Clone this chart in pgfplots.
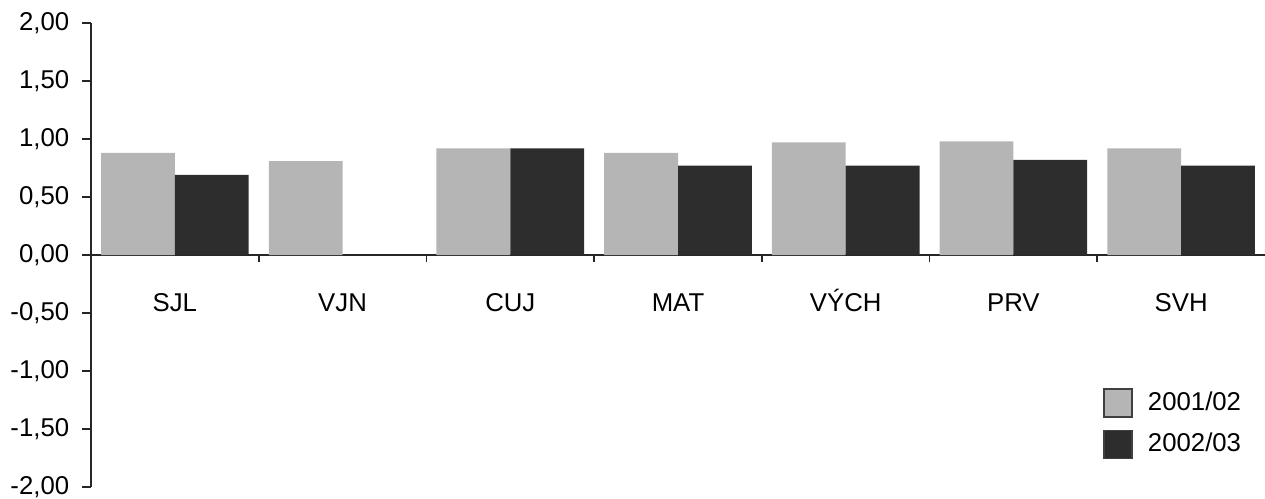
\documentclass[border=0pt]{standalone}
\usepackage{pgfplots}
\pgfplotsset{compat=1.18}
\usepackage{fontspec}
\setmainfont{Liberation Sans}
\definecolor{lightbar}{HTML}{B5B5B5}
\definecolor{darkbar}{HTML}{2D2D2D}
\begin{document}
\begin{tikzpicture}
\fontsize{10.3}{12}\selectfont
\begin{axis}[
  scale only axis,
  width=469.6pt, height=185.6pt,
  xmin=-0.5, xmax=6.5,
  ymin=-2, ymax=2,
  axis y line=left,
  axis x line=middle,
  axis line style={-, line width=0.7pt, black!85},
  ytick={-2,-1.5,...,2},
  yticklabel style={xshift=-1.5pt, /pgf/number format/.cd, fixed, fixed zerofill, precision=2, use comma, assume math mode=true},
  y tick style={line width=0.7pt, black!85},
  tick align=outside,
  major tick length=3.6pt,
  xtick={0,...,6},
  xticklabels={SJL,VJN,CUJ,MAT,VÝCH,PRV,SVH},
  x tick style={draw=none},
  xticklabel style={anchor=base, yshift=-19pt},
  ybar=0pt,
  bar width=0.44,
  enlargelimits=false,
  tick label style={font=\fontsize{10.3}{12}\selectfont},
  legend style={draw=none, fill=none, at={(0.862,0.2177)}, anchor=north west, inner sep=0pt, row sep=3.6pt, font=\fontsize{10.3}{12}\selectfont, cells={anchor=west}, /tikz/every odd column/.append style={column sep=4pt}},
  legend image code/.code={\draw[#1, draw=black!75, line width=0.6pt] (0pt,-5.6pt) rectangle (11.2pt,5.6pt);},
  legend cell align=left,
]
\addplot[fill=lightbar, draw=none] coordinates {(0,0.88) (1,0.81) (2,0.92) (3,0.88) (4,0.97) (5,0.98) (6,0.92)};
\addplot[fill=darkbar, draw=none] coordinates {(0,0.69) (2,0.92) (3,0.77) (4,0.77) (5,0.82) (6,0.77)};
\legend{2001/02,2002/03}
\foreach \t in {0.5,1.5,2.5,3.5,4.5,5.5} {
  \edef\temp{\noexpand\draw[line width=0.7pt, black!85] (axis cs:\t,0) -- ([yshift=-2.8pt]axis cs:\t,0);}
  \temp
}
\end{axis}
\pgfresetboundingbox
\path[use as bounding box] (-36.4pt,-4.4pt) rectangle (469.6pt,194.8pt);
\end{tikzpicture}
\end{document}
